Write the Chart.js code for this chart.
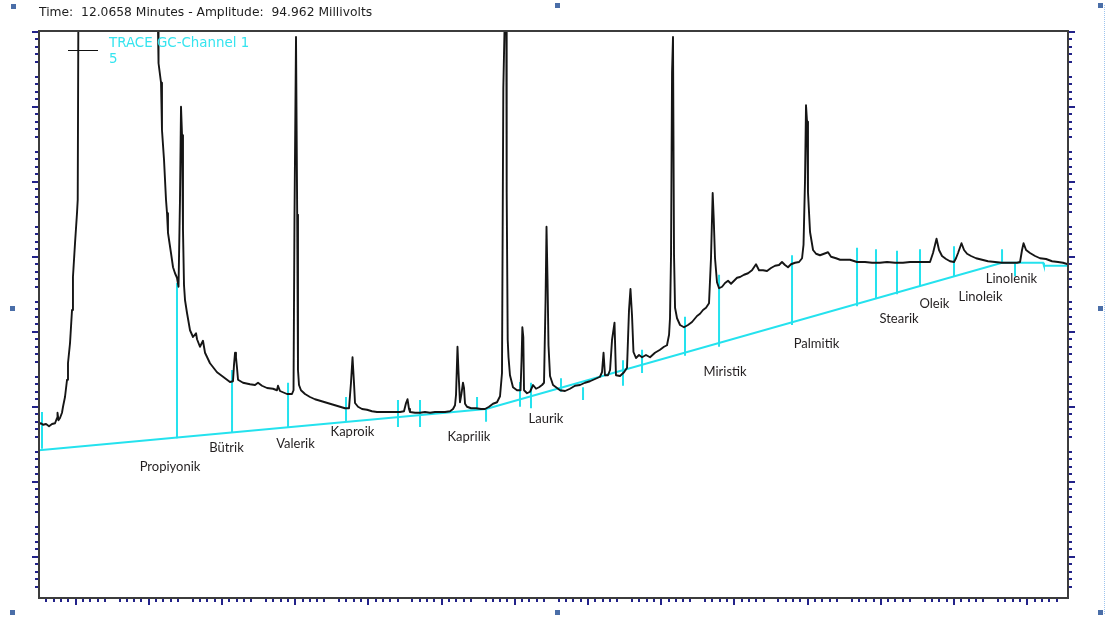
<!DOCTYPE html>
<html>
<head>
<meta charset="utf-8">
<title>TRACE GC-Channel 1</title>
<script src="https://cdn.jsdelivr.net/npm/chart.js@4.4.1/dist/chart.umd.min.js"></script>
<style>
  html, body { margin: 0; padding: 0; background: #fff; }
  #wrap { position: relative; width: 1107px; height: 619px; overflow: hidden; }
  canvas { display: block; }
  .readout { position: absolute; left: 39px; top: 4px; font: 12.3px "DejaVu Sans", sans-serif; line-height: 16px; color: #1e1e1e; white-space: pre; }
  .key-line { position: absolute; left: 68px; top: 50px; width: 30px; height: 0; border-top: 1.5px solid #111; }
  .key-text { position: absolute; left: 109px; top: 35px; font: 13.4px "DejaVu Sans", sans-serif; line-height: 15.5px; color: #35e4ef; }
  .grip { position: absolute; width: 5px; height: 5px; background: #4a6ea8; }
  .edge { position: absolute; left: 1104px; top: 5px; height: 609px; border-left: 1px dotted #9ec5ee; }
</style>
</head>
<body>
<div id="wrap">
  <canvas id="gc" width="1107" height="619"></canvas>
  <div class="readout">Time:  12.0658 Minutes - Amplitude:  94.962 Millivolts</div>
  <div class="key-line"></div>
  <div class="key-text">TRACE GC-Channel 1<br>5</div>
  <div class="edge"></div>
  <div class="grip" style="left:11px;top:4px"></div>
  <div class="grip" style="left:555px;top:3px"></div>
  <div class="grip" style="left:1098px;top:3px"></div>
  <div class="grip" style="left:10px;top:306px"></div>
  <div class="grip" style="left:1098px;top:306px"></div>
  <div class="grip" style="left:10px;top:610px"></div>
  <div class="grip" style="left:555px;top:610px"></div>
  <div class="grip" style="left:1098px;top:610px"></div>
</div>
<script>
// detector signal: retention time (min) and amplitude (mV)
var traceTime = [
  0.500, 0.527, 0.555, 0.596, 0.637, 0.678, 0.719, 0.746, 0.753, 0.766,
  0.787, 0.814, 0.828, 0.855, 0.883, 0.896, 0.924, 0.951, 0.964, 0.992,
  1.019, 1.029, 1.037, 1.579, 2.126, 2.133, 2.167, 2.180, 2.208, 2.235,
  2.249, 2.262, 2.303, 2.331, 2.358, 2.385, 2.406, 2.426, 2.440, 2.454,
  2.467, 2.481, 2.495, 2.522, 2.563, 2.604, 2.645, 2.659, 2.699, 2.740,
  2.768, 2.836, 2.932, 3.014, 3.109, 3.150, 3.164, 3.178, 3.191, 3.205,
  3.219, 3.287, 3.383, 3.451, 3.492, 3.546, 3.615, 3.697, 3.751, 3.765,
  3.792, 3.888, 3.956, 3.977, 3.990, 4.011, 4.027, 4.038, 4.052, 4.079,
  4.134, 4.202, 4.270, 4.339, 4.407, 4.475, 4.544, 4.612, 4.680, 4.735,
  4.762, 4.783, 4.803, 4.817, 4.858, 4.913, 4.981, 5.049, 5.117, 5.227,
  5.336, 5.432, 5.486, 5.514, 5.534, 5.555, 5.568, 5.637, 5.705, 5.773,
  5.842, 5.910, 5.978, 6.046, 6.115, 6.156, 6.183, 6.197, 6.217, 6.231,
  6.251, 6.272, 6.292, 6.306, 6.320, 6.347, 6.402, 6.470, 6.538, 6.593,
  6.648, 6.702, 6.757, 6.798, 6.825, 6.843, 6.859, 6.870, 6.884, 6.889,
  6.903, 6.914, 6.934, 6.975, 7.030, 7.078, 7.092, 7.103, 7.116, 7.126,
  7.167, 7.208, 7.249, 7.290, 7.331, 7.372, 7.399, 7.420, 7.433, 7.447,
  7.460, 7.481, 7.522, 7.577, 7.618, 7.686, 7.754, 7.822, 7.891, 7.959,
  8.027, 8.096, 8.164, 8.191, 8.212, 8.232, 8.273, 8.301, 8.328, 8.362,
  8.382, 8.437, 8.492, 8.533, 8.560, 8.580, 8.601, 8.621, 8.655, 8.697,
  8.738, 8.792, 8.847, 8.915, 8.984, 9.038, 9.079, 9.107, 9.120, 9.134,
  9.148, 9.161, 9.175, 9.189, 9.216, 9.257, 9.311, 9.366, 9.421, 9.489,
  9.530, 9.571, 9.612, 9.653, 9.680, 9.703, 9.717, 9.735, 9.762, 9.790,
  9.831, 9.872, 9.913, 9.954, 9.995, 10.036, 10.077, 10.131, 10.186, 10.240,
  10.295, 10.336, 10.391, 10.445, 10.500, 10.555, 10.609, 10.650, 10.691, 10.732,
  10.773, 10.828, 10.883, 10.924, 10.944, 10.964, 10.978, 10.992, 11.005, 11.033,
  11.074, 11.115, 11.169, 11.224, 11.279, 11.320, 11.388, 11.443, 11.579, 11.675,
  11.784, 11.880, 11.989, 12.085, 12.194, 12.303, 12.399, 12.508, 12.604, 12.672,
  12.713, 12.761, 12.795, 12.836, 12.891, 12.945, 13.000, 13.027, 13.055, 13.102,
  13.137, 13.178, 13.232, 13.301, 13.383, 13.464, 13.560, 13.656, 13.765, 13.861,
  13.902, 13.929, 13.950, 13.984, 14.038, 14.107, 14.175, 14.257, 14.339, 14.421,
  14.489, 14.557
];
var traceMv = [
  17.7, 17.8, 17.6, 17.7, 17.4, 17.7, 17.8, 18.5, 19.2, 18.2,
  18.5, 19.2, 20.0, 21.3, 23.6, 25.8, 28.5, 32.9, 37.3, 41.8,
  45.8, 47.6, 70.1, 240, 70.1, 65.8, 63.2, 56.9, 52.9, 47.6,
  45.8, 43.2, 40.5, 38.6, 37.8, 37.2, 36.0, 47.6, 60.0, 56.2,
  43.6, 36.2, 34.2, 32.5, 30.2, 29.3, 29.8, 29.0, 28.0, 28.8,
  27.2, 25.8, 24.6, 24.0, 23.3, 23.4, 25.6, 27.2, 26.6, 25.2,
  23.6, 23.2, 23.0, 22.9, 23.2, 22.8, 22.5, 22.4, 22.2, 22.8,
  22.1, 21.7, 21.7, 22.2, 44.9, 69.3, 45.6, 24.9, 22.9, 22.2,
  21.7, 21.3, 21.0, 20.8, 20.6, 20.4, 20.2, 20.0, 19.8, 19.8,
  23.2, 26.6, 23.2, 20.5, 20.0, 19.7, 19.6, 19.4, 19.3, 19.3,
  19.3, 19.3, 19.4, 20.5, 21.0, 19.7, 19.3, 19.2, 19.2, 19.3,
  19.2, 19.3, 19.3, 19.3, 19.4, 19.7, 20.2, 21.6, 28.0, 24.6,
  20.6, 21.8, 23.2, 22.5, 20.4, 20.0, 19.8, 19.8, 19.7, 19.7,
  20.0, 20.4, 20.6, 21.4, 24.5, 62.5, 70.1, 76.0, 70.1, 48.6,
  28.9, 26.6, 24.2, 22.6, 22.2, 22.2, 26.2, 30.6, 29.3, 22.2,
  21.8, 22.0, 22.9, 22.4, 22.6, 22.9, 23.2, 34.2, 44.0, 36.9,
  28.2, 24.1, 22.9, 22.5, 22.2, 22.1, 22.4, 22.8, 22.9, 23.2,
  23.4, 23.7, 24.0, 24.6, 27.2, 24.2, 24.2, 24.9, 28.9, 31.2,
  24.2, 24.1, 24.6, 25.2, 32.9, 35.7, 32.2, 27.3, 26.5, 26.9,
  26.6, 26.9, 26.6, 27.2, 27.6, 28.0, 28.2, 29.6, 31.8, 40.2,
  64.6, 69.3, 40.2, 33.2, 31.8, 30.9, 30.6, 30.9, 31.3, 32.1,
  32.4, 32.9, 33.2, 33.8, 39.8, 48.5, 45.2, 39.8, 36.6, 35.8,
  36.0, 36.5, 36.8, 36.4, 36.8, 37.2, 37.3, 37.6, 37.8, 38.2,
  39.0, 38.2, 38.2, 38.1, 38.5, 38.8, 38.9, 39.3, 38.9, 38.6,
  39.0, 39.2, 39.3, 39.8, 41.6, 50.0, 60.2, 58.0, 48.6, 43.3,
  40.9, 40.4, 40.2, 40.4, 40.6, 40.0, 39.8, 39.6, 39.6, 39.3,
  39.3, 39.2, 39.2, 39.3, 39.2, 39.2, 39.3, 39.3, 39.3, 39.3,
  40.5, 42.4, 40.9, 40.1, 39.7, 39.4, 39.3, 39.8, 40.5, 41.8,
  40.9, 40.4, 40.1, 39.8, 39.6, 39.4, 39.3, 39.2, 39.2, 39.2,
  39.3, 40.9, 41.8, 40.9, 40.5, 40.1, 39.8, 39.7, 39.4, 39.3,
  39.2, 39.0
];

// integration baseline
var baselineTime = [0.500, 6.607, 13.656, 14.216, 14.229, 14.557];
var baselineMv = [14.2, 19.7, 39.2, 39.2, 38.8, 38.8];

// peak start / end drop lines
var markTime = [0.541, 2.385, 3.137, 3.902, 4.694, 5.404, 5.705, 6.484, 6.607, 7.071, 7.221, 7.631, 7.932,
  8.478, 8.738, 9.325, 9.790, 10.787, 11.675, 11.934, 12.221, 12.535, 13.000, 13.656, 13.833];
var markTop = [19.3, 36.5, 24.9, 23.2, 21.3, 20.9, 20.9, 21.3, 19.8, 23.3, 23.2, 23.8, 22.6,
  26.2, 27.6, 32.0, 37.6, 40.2, 41.2, 41.0, 40.8, 41.0, 41.4, 41.0, 39.2];
var markBottom = [14.4, 15.8, 16.6, 17.3, 18.0, 17.3, 17.3, 19.6, 18.0, 20.0, 19.8, 22.0, 20.9,
  22.8, 24.5, 26.8, 28.0, 30.9, 33.4, 34.4, 35.0, 36.0, 37.3, 39.3, 37.4];

// fatty acid names and where their labels sit (min, mV)
var peakNames = ['Propiyonik', 'Bütrik', 'Valerik', 'Kaproik', 'Kaprilik', 'Laurik',
  'Miristik', 'Palmitik', 'Stearik', 'Oleik', 'Linoleik', 'Linolenik'];
var labelTime = [2.290, 3.061, 4.004, 4.783, 6.374, 7.426, 9.872, 11.121, 12.249, 12.733, 13.362, 13.785];
var labelMv = [12.0, 14.5, 15.0, 16.6, 16.0, 18.4, 24.6, 28.4, 31.7, 33.7, 34.6, 37.0];

var timeMin = 0.5, timeMax = 14.557;
var mvMin = -5.5, mvMax = 70.1;

var tracePts = traceTime.map(function (t, i) { return { x: t, y: traceMv[i] }; });
var basePts = baselineTime.map(function (t, i) { return { x: t, y: baselineMv[i] }; });
var markPts = [];
markTime.forEach(function (t, i) {
  markPts.push({ x: t, y: markTop[i] }, { x: t, y: markBottom[i] }, { x: t, y: null });
});

var cyan = '#24e2ee';

// frame with outward ticks (every 1/10 of a major step, mid tick left out) and peak names
var gcFrame = {
  id: 'gcFrame',
  afterDatasetsDraw: function (chart) {
    var ctx = chart.ctx, xs = chart.scales.x, ys = chart.scales.y;
    ctx.save();
    ctx.font = '13px Lato, "Open Sans", sans-serif';
    ctx.fillStyle = '#231f20';
    ctx.textAlign = 'center';
    ctx.textBaseline = 'middle';
    peakNames.forEach(function (name, i) {
      ctx.fillText(name, xs.getPixelForValue(labelTime[i]), ys.getPixelForValue(labelMv[i]));
    });
    ctx.restore();
  },
  afterDraw: function (chart) {
    var ctx = chart.ctx, a = chart.chartArea, xs = chart.scales.x, ys = chart.scales.y;
    ctx.save();
    ctx.strokeStyle = '#22228a';
    ctx.lineWidth = 2;
    ctx.beginPath();
    for (var i = Math.ceil(timeMin * 10); i <= Math.floor(timeMax * 10); i++) {
      if (i % 10 === 5) continue;
      var px = Math.round(xs.getPixelForValue(i / 10));
      var len = i % 10 === 0 ? 7 : 4;
      ctx.moveTo(px, a.bottom);
      ctx.lineTo(px, a.bottom + len);
    }
    for (var j = Math.ceil(mvMin); j <= Math.floor(mvMax); j++) {
      var m = ((j % 10) + 10) % 10;
      if (m === 5) continue;
      var py = Math.round(ys.getPixelForValue(j));
      var len2 = m === 0 ? 7 : 4;
      ctx.moveTo(a.left - len2, py);
      ctx.lineTo(a.left, py);
      ctx.moveTo(a.right, py);
      ctx.lineTo(a.right + len2, py);
    }
    ctx.stroke();
    ctx.strokeStyle = '#3c3c3c';
    ctx.lineWidth = 2;
    ctx.strokeRect(a.left, a.top, a.right - a.left, a.bottom - a.top);
    ctx.restore();
  }
};

var ctx = document.getElementById('gc').getContext('2d');
var gcChart = new Chart(ctx, {
  type: 'line',
  data: {
    datasets: [{
      label: 'TRACE GC-Channel 1',
      data: tracePts,
      borderColor: '#151515',
      borderWidth: 1.9,
      borderJoinStyle: 'round',
      pointRadius: 0,
      tension: 0
    }, {
      label: 'Baseline',
      data: basePts,
      borderColor: cyan,
      borderWidth: 2,
      pointRadius: 0,
      tension: 0
    }, {
      label: 'Peak marks',
      data: markPts,
      borderColor: cyan,
      borderWidth: 2,
      pointRadius: 0,
      spanGaps: false
    }]
  },
  options: {
    responsive: false,
    animation: false,
    layout: { padding: { left: 39, top: 31, right: 39, bottom: 21 } },
    scales: {
      x: { type: 'linear', min: timeMin, max: timeMax, display: false },
      y: { type: 'linear', min: mvMin, max: mvMax, display: false }
    },
    plugins: {
      legend: { display: false },
      tooltip: { enabled: false }
    }
  },
  plugins: [gcFrame]
});
</script>
</body>
</html>
